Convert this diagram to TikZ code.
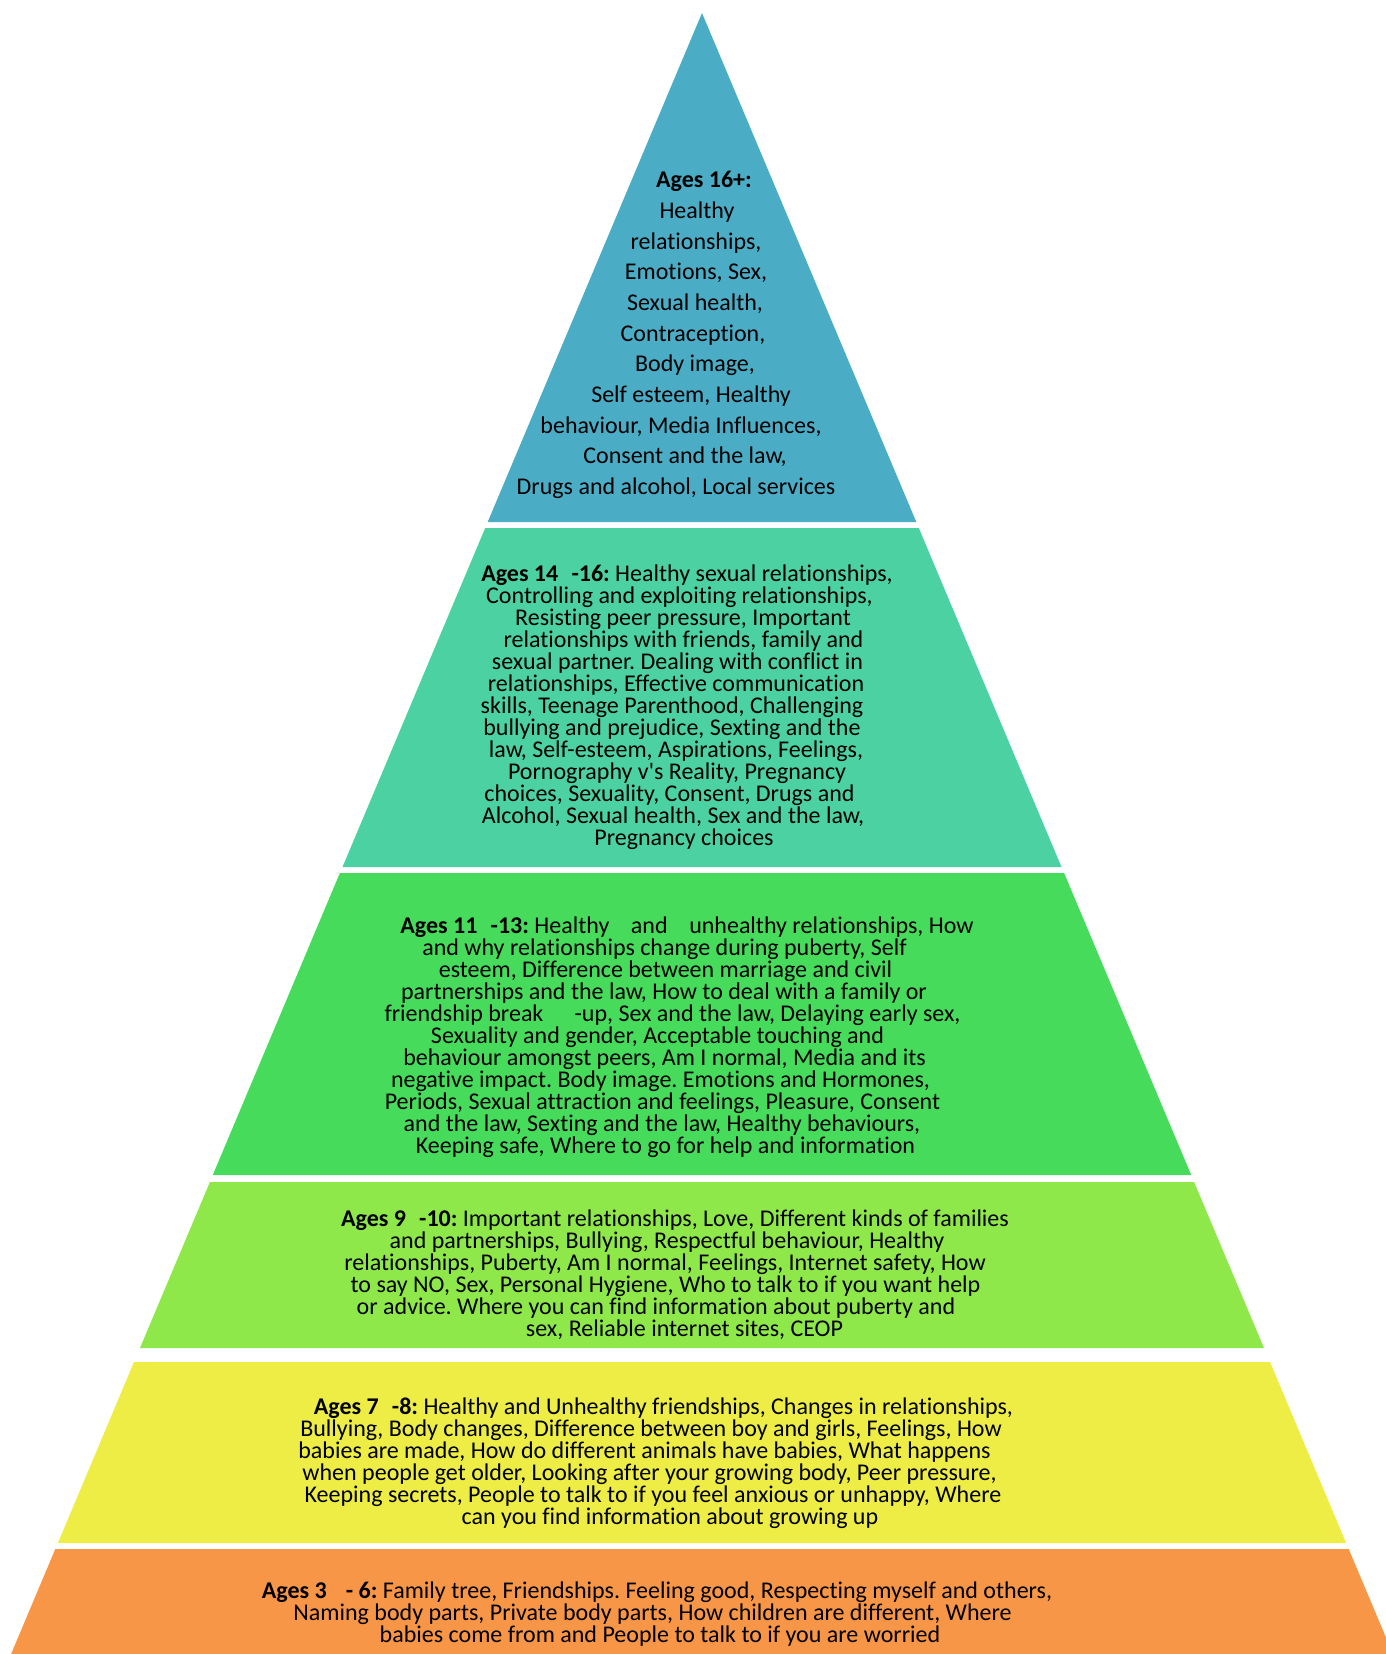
\documentclass[tikz,border=0pt]{standalone}
\usepackage{fontspec}
\setmainfont{Carlito}[Ligatures=NoCommon]
\newfontfamily\plainapos{Carlito}[Ligatures=TeXOff]
\frenchspacing
\definecolor{cA}{HTML}{4BACC6}
\definecolor{cB}{HTML}{4CD2A2}
\definecolor{cC}{HTML}{47DB5C}
\definecolor{cD}{HTML}{8EE84A}
\definecolor{cE}{HTML}{EDED45}
\definecolor{cF}{HTML}{F79646}
\newcommand{\sh}[1]{\hspace*{#1pt}}
\begin{document}
\begin{tikzpicture}[x=1pt,y=-1pt,
  layertext/.style={align=center, inner sep=0pt, text=black, font=\fontsize{24}{22}\selectfont},
  toptext/.style={align=center, inner sep=0pt, text=black, font=\fontsize{24}{30.7}\selectfont}]
\useasboundingbox (0,0) rectangle (1386,1654);
\clip (0,0) rectangle (1386,1654);
% layers
\fill[cA] (702,13) -- (916.3,522) -- (487.7,522) -- cycle;
\fill[cB] (485.2,528) -- (918.8,528) -- (1061.5,867) -- (342.5,867) -- cycle;
\fill[cC] (339.9,873) -- (1064.1,873) -- (1191.2,1175) -- (212.8,1175) -- cycle;
\fill[cD] (209.9,1182) -- (1194.1,1182) -- (1264,1348) -- (140,1348) -- cycle;
\fill[cE] (134,1362) -- (1270,1362) -- (1346.1,1543) -- (57.9,1543) -- cycle;
\fill[cF] (55.3,1549) -- (1348.7,1549) -- (1392.9,1654) -- (11.1,1654) -- cycle;
% texts
\node[toptext] (t16) at (692,335) {%
\sh{24}\textbf{Ages 16+:}\\
\sh{10}Healthy\\
\sh{8}relationships,\\
\sh{8}Emotions, Sex,\\
\sh{6}Sexual health,\\
\sh{2}Contraception,\\
\sh{6}Body image,\\
\sh{-2}Self esteem, Healthy\\
\sh{-22}behaviour, Media Influences,\\
\sh{-14}Consent and the law,\\
\sh{-32}Drugs and alcohol, Local services};
\node[layertext] (t14) at (676,707) {%
\sh{22}\textbf{Ages 14\hspace{0.55em}-16:} Healthy sexual relationships,\\
\sh{7}Controlling and exploiting relationships,\\
\sh{14}Resisting peer pressure, Important\\
\sh{15}relationships with friends, family and\\
\sh{3}sexual partner. Dealing with conflict in\\
relationships, Effective communication\\
\sh{-8}skills, Teenage Parenthood, Challenging\\
\sh{-8}bullying and prejudice, Sexting and the\\
law, Self-esteem, Aspirations, Feelings,\\
\sh{2}Pornography v{\plainapos'}s Reality, Pregnancy\\
\sh{-13}choices, Sexuality, Consent, Drugs and\\
\sh{-6}Alcohol, Sexual health, Sex and the law,\\
\sh{16}Pregnancy choices};
\node[layertext] (t11) at (665,1037) {%
\sh{44}\textbf{Ages 11\hspace{0.55em}-13:} Healthy\hspace{0.9em}and\hspace{0.9em}unhealthy relationships, How\\
\sh{-1}and why relationships change during puberty, Self\\
\sh{1}esteem, Difference between marriage and civil\\
\sh{-2}partnerships and the law, How to deal with a family or\\
\sh{15}friendship break\hspace{1.3em}-up, Sex and the law, Delaying early sex,\\
\sh{-15}Sexuality and gender, Acceptable touching and\\
\sh{-1}behaviour amongst peers, Am I normal, Media and its\\
\sh{-9}negative impact. Body image. Emotions and Hormones,\\
\sh{-5}Periods, Sexual attraction and feelings, Pleasure, Consent\\
\sh{-6}and the law, Sexting and the law, Healthy behaviours,\\
\sh{1}Keeping safe, Where to go for help and information};
\node[layertext] (t9) at (667,1275) {%
\sh{16}\textbf{Ages 9\hspace{0.55em}-10:} Important relationships, Love, Different kinds of families\\
and partnerships, Bullying, Respectful behaviour, Healthy\\
\sh{-4}relationships, Puberty, Am I normal, Feelings, Internet safety, How\\
\sh{-3}to say NO, Sex, Personal Hygiene, Who to talk to if you want help\\
\sh{-22}or advice. Where you can find information about puberty and\\
\sh{35}sex, Reliable internet sites, CEOP};
\node[layertext] (t7) at (651,1463) {%
\sh{25}\textbf{Ages 7\hspace{0.55em}-8:} Healthy and Unhealthy friendships, Changes in relationships,\\
Bullying, Body changes, Difference between boy and girls, Feelings, How\\
\sh{-13}babies are made, How do different animals have babies, What happens\\
\sh{-3}when people get older, Looking after your growing body, Peer pressure,\\
\sh{4}Keeping secrets, People to talk to if you feel anxious or unhappy, Where\\
\sh{38}can you find information about growing up};
\node[layertext] (t3) at (656,1614) {%
\sh{2}\textbf{Ages 3\hspace{0.8em}- 6:} Family tree, Friendships. Feeling good, Respecting myself and others,\\
\sh{-7}Naming body parts, Private body parts, How children are different, Where\\
\sh{8}babies come from and People to talk to if you are worried};
\end{tikzpicture}
\end{document}
